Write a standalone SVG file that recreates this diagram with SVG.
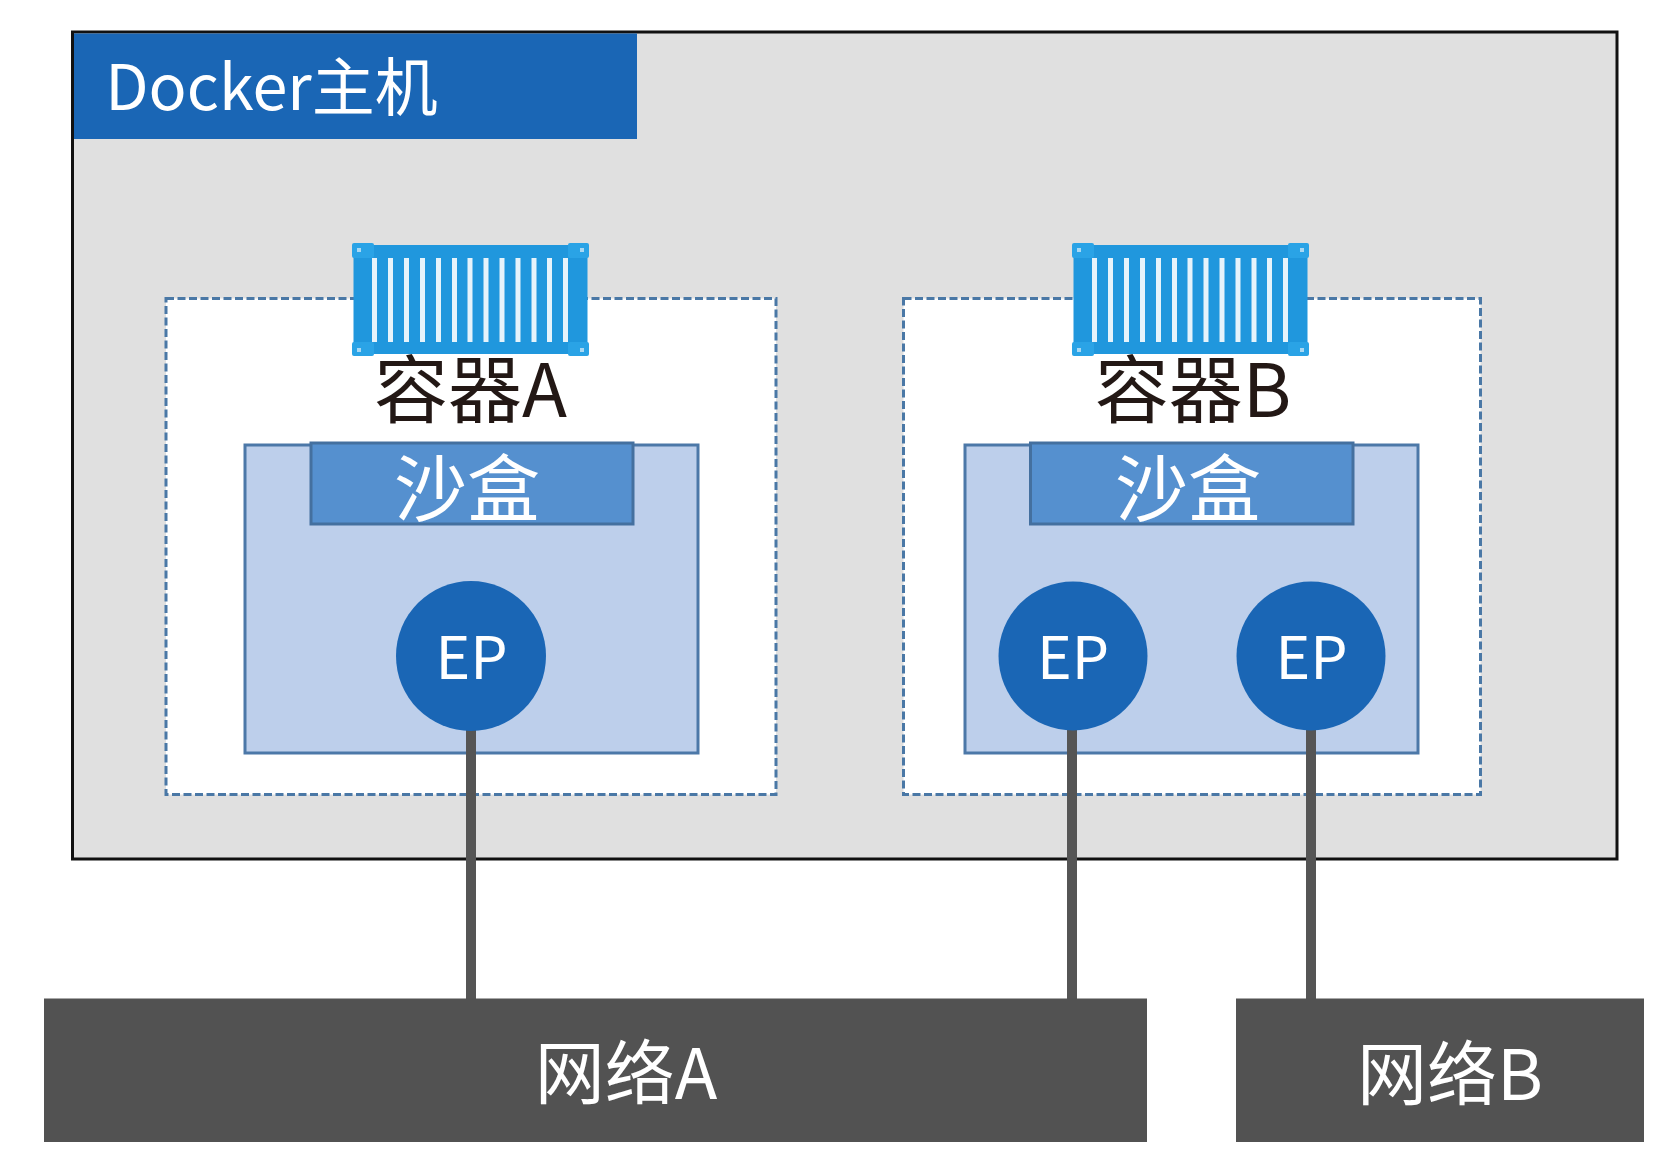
<svg xmlns="http://www.w3.org/2000/svg" xmlns:xlink="http://www.w3.org/1999/xlink" width="1676" height="1176" viewBox="0 0 1676 1176">
<style>
text{font-family:"Noto Sans CJK SC","Noto Sans",sans-serif;text-anchor:middle;font-weight:400}
.w{fill:#fff}
.k{fill:#231815}
.dash{fill:#fff;stroke:#4a78a6;stroke-width:3;stroke-dasharray:8 3.500}
.sand{fill:#bdcfeb;stroke:#4c78a8;stroke-width:3}
.head{fill:#5590cf;stroke:#44709f;stroke-width:3}
.ep{fill:#1a66b5}
.net{fill:#525252}
.wire{stroke:#555;stroke-width:10;fill:none}
.rib{fill:#e6f3fb}
</style>
<defs>
<g id="box">
<rect x="353.500" y="245" width="234" height="109" fill="#2097dd"/>
<rect x="352" y="243" width="22" height="15" rx="2" fill="#2aa3e6"/>
<rect x="568" y="243" width="21" height="15" rx="2" fill="#2aa3e6"/>
<rect x="352" y="342" width="22" height="14" rx="2" fill="#2aa3e6"/>
<rect x="568" y="342" width="21" height="14" rx="2" fill="#2aa3e6"/>
<g fill="#a9d8f3"><rect x="357" y="248" width="4" height="4"/><rect x="580" y="248" width="4" height="4"/><rect x="357" y="348" width="4" height="4"/><rect x="580" y="348" width="4" height="4"/></g>
<g class="rib">
<rect x="372" y="258" width="5" height="84"/><rect x="388" y="258" width="5" height="84"/><rect x="404" y="258" width="5" height="84"/><rect x="420" y="258" width="5" height="84"/><rect x="436" y="258" width="5" height="84"/><rect x="452" y="258" width="5" height="84"/><rect x="467.500" y="258" width="5" height="84"/><rect x="483.500" y="258" width="5" height="84"/><rect x="499.500" y="258" width="5" height="84"/><rect x="515.500" y="258" width="5" height="84"/><rect x="531.500" y="258" width="5" height="84"/><rect x="547" y="258" width="5" height="84"/><rect x="563" y="258" width="5" height="84"/>
</g>
</g>
</defs>
<rect width="1676" height="1176" fill="#fff"/>
<g id="host">
<rect x="72.500" y="32" width="1544.500" height="827" fill="#e0e0e0" stroke="#111" stroke-width="3"/>
<rect x="74" y="33.500" width="563" height="105.500" fill="#1a66b5"/>
<text class="w" x="271.500" y="110" font-size="63">Docker主机</text>
</g>
<g id="containerA">
<rect class="dash" x="166" y="298.500" width="610" height="496"/>
<use xlink:href="#box" href="#box"/>
<text class="k" x="470.500" y="417" font-size="74">容器A</text>
</g>
<g id="containerB">
<rect class="dash" x="903.500" y="298.500" width="577" height="496"/>
<use xlink:href="#box" href="#box" x="720"/>
<text class="k" x="1193" y="417" font-size="74">容器B</text>
</g>
<g id="sandboxA">
<rect class="sand" x="245" y="445" width="453" height="308"/>
<rect class="head" x="311" y="443" width="322" height="81"/>
<text class="w" x="467" y="515" font-size="73">沙盒</text>
</g>
<g id="sandboxB">
<rect class="sand" x="965" y="445" width="453" height="308"/>
<rect class="head" x="1030.500" y="443" width="322.500" height="81"/>
<text class="w" x="1188" y="515" font-size="73">沙盒</text>
</g>
<g id="connectors">
<path class="wire" d="M471 725V1002"/>
<path class="wire" d="M1072 725V1002"/>
<path class="wire" d="M1311 725V1002"/>
</g>
<g id="epA">
<circle class="ep" cx="471" cy="656" r="75"/>
<text class="w" x="471.500" y="679" font-size="59">EP</text>
</g>
<g id="epB1">
<circle class="ep" cx="1073" cy="656" r="74.500"/>
<text class="w" x="1073" y="679" font-size="59">EP</text>
</g>
<g id="epB2">
<circle class="ep" cx="1311" cy="656" r="74.500"/>
<text class="w" x="1311.500" y="679" font-size="59">EP</text>
</g>
<g id="networkA">
<rect class="net" x="44" y="998.500" width="1103" height="143.500"/>
<text class="w" x="626" y="1099" font-size="70">网络A</text>
</g>
<g id="networkB">
<rect class="net" x="1236" y="998.500" width="408" height="143.500"/>
<text class="w" x="1450" y="1100" font-size="70">网络B</text>
</g>
</svg>
